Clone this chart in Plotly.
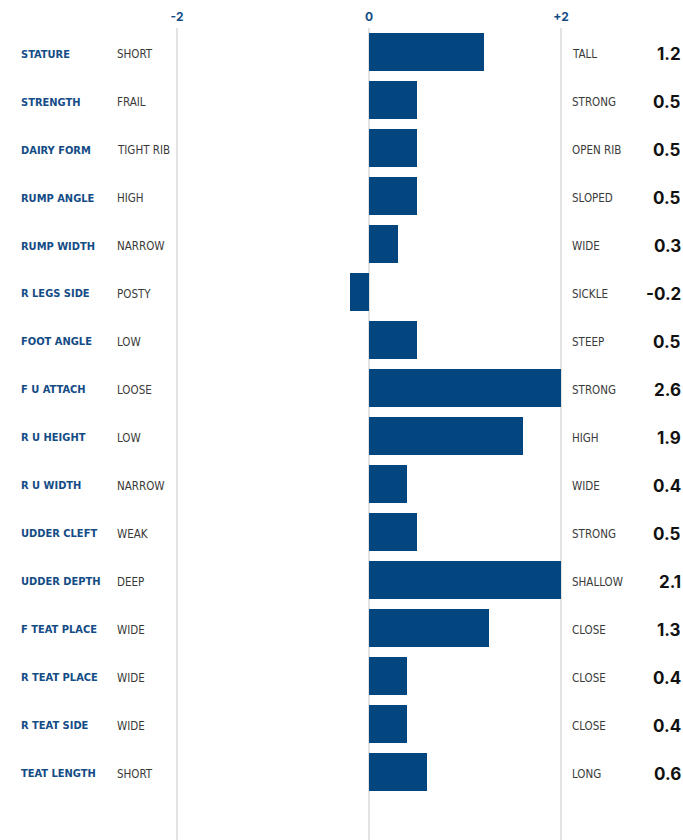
import plotly.graph_objects as go

traits = ["STATURE", "STRENGTH", "DAIRY FORM", "RUMP ANGLE", "RUMP WIDTH", "R LEGS SIDE",
          "FOOT ANGLE", "F U ATTACH", "R U HEIGHT", "R U WIDTH", "UDDER CLEFT", "UDDER DEPTH",
          "F TEAT PLACE", "R TEAT PLACE", "R TEAT SIDE", "TEAT LENGTH"]
low_labels = ["SHORT", "FRAIL", "TIGHT RIB", "HIGH", "NARROW", "POSTY", "LOW", "LOOSE", "LOW",
              "NARROW", "WEAK", "DEEP", "WIDE", "WIDE", "WIDE", "SHORT"]
high_labels = ["TALL", "STRONG", "OPEN RIB", "SLOPED", "WIDE", "SICKLE", "STEEP", "STRONG", "HIGH",
               "WIDE", "STRONG", "SHALLOW", "CLOSE", "CLOSE", "CLOSE", "LONG"]
score_labels = ["1.2", "0.5", "0.5", "0.5", "0.3", "-0.2", "0.5", "2.6", "1.9", "0.4", "0.5", "2.1",
                "1.3", "0.4", "0.4", "0.6"]
bar_values = [1.2, 0.5, 0.5, 0.5, 0.3, -0.2, 0.5, 2.6, 1.6, 0.4, 0.5, 2.1, 1.25, 0.4, 0.4, 0.6]
tick_vals = [-2, 0, 2]
tick_text = ["-2", "0", "+2"]
x_min, x_max = -2, 2

BLUE = "#03467f"
LABEL_BLUE = "#144c86"
GRID = "#e2e2e2"
COND = "Liberation Sans Narrow, DejaVu Sans Condensed, Roboto, sans-serif"

rows = list(range(len(traits)))

fig = go.Figure(go.Bar(
    x=bar_values, y=rows, orientation="h", width=0.8,
    marker=dict(color=BLUE, line=dict(width=0)),
    hoverinfo="skip",
))

PL, PW = 177, 384.0
def px(screen_x):
    return (screen_x - PL) / PW

ann = []
for i in rows:
    ann.append(dict(x=px(19), y=i, xref="paper", yref="y", text="<b>" + traits[i] + "</b>",
                    showarrow=False, xanchor="left", yanchor="middle", yshift=-2,
                    font=dict(family=COND, size=11, color=LABEL_BLUE)))
    ann.append(dict(x=px(115), y=i, xref="paper", yref="y", text=low_labels[i],
                    showarrow=False, xanchor="left", yanchor="middle", yshift=-2,
                    font=dict(family=COND, size=11.5, color="#3a3a3a")))
    ann.append(dict(x=px(570), y=i, xref="paper", yref="y", text=high_labels[i],
                    showarrow=False, xanchor="left", yanchor="middle", yshift=-2,
                    font=dict(family=COND, size=11.5, color="#3a3a3a")))
    ann.append(dict(x=px(683), y=i, xref="paper", yref="y", text="<b>" + score_labels[i] + "</b>",
                    showarrow=False, xanchor="right", yanchor="middle", yshift=-2,
                    font=dict(family="Inter, Lato, sans-serif", size=17, color="#111111")))

shapes = []
for v in tick_vals:
    shapes.append(dict(type="line", xref="paper", yref="paper",
                       x0=(v - x_min) / (x_max - x_min), x1=(v - x_min) / (x_max - x_min),
                       y0=0, y1=1, layer="below", line=dict(color=GRID, width=2)))

fig.update_layout(
    width=683, height=840,
    margin=dict(l=PL, r=683 - PL - int(PW), t=28, b=0),
    paper_bgcolor="white", plot_bgcolor="white",
    showlegend=False,
    annotations=ann,
    shapes=shapes,
    xaxis=dict(range=[x_min, x_max], side="top", tickvals=tick_vals, ticktext=tick_text,
               showgrid=False, zeroline=False,
               showline=False, ticks="", ticklabelstandoff=4,
               tickfont=dict(family="Inter, Lato, sans-serif", size=12, color=LABEL_BLUE, weight=700),
               fixedrange=True),
    yaxis=dict(range=[16.417, -0.5], showticklabels=False, showgrid=False, zeroline=False,
               showline=False, fixedrange=True),
    bargap=0,
)

fig.write_html("out.html", config={"displayModeBar": False, "staticPlot": True},
               post_script="document.body.style.margin='0';document.body.style.overflow='hidden';")
